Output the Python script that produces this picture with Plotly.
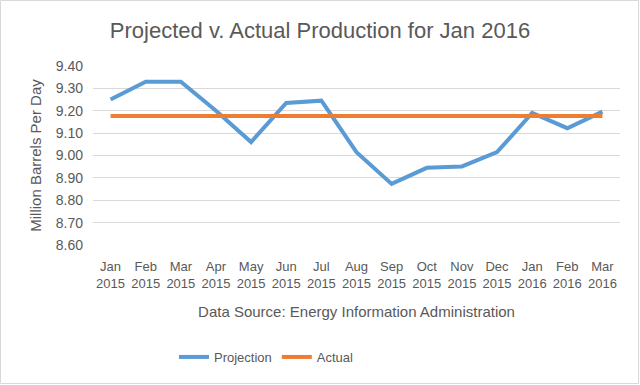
import plotly.graph_objects as go

months = ["Jan<br>2015", "Feb<br>2015", "Mar<br>2015", "Apr<br>2015", "May<br>2015",
          "Jun<br>2015", "Jul<br>2015", "Aug<br>2015", "Sep<br>2015", "Oct<br>2015",
          "Nov<br>2015", "Dec<br>2015", "Jan<br>2016", "Feb<br>2016", "Mar<br>2016"]
projection = [9.25, 9.33, 9.33, 9.20, 9.06, 9.235, 9.245, 9.015, 8.873, 8.945,
              8.951, 9.015, 9.19, 9.122, 9.196]
actual = [9.177] * len(months)
y_ticks = [8.60, 8.70, 8.80, 8.90, 9.00, 9.10, 9.20, 9.30, 9.40]

font_family = "Liberation Sans Narrow, Liberation Sans, Arial, sans-serif"
txt = "#595959"

fig = go.Figure()
fig.add_trace(go.Scatter(x=months, y=projection, name="Projection", mode="lines",
                         line=dict(color="#5B9BD5", width=4)))
fig.add_trace(go.Scatter(x=months, y=actual, name="Actual", mode="lines",
                         line=dict(color="#ED7D31", width=4)))

L, R, T, B = 93, 20, 66, 140
W, H = 640, 385
pw, ph = W - L - R, H - T - B

fig.update_layout(
    width=W, height=H,
    margin=dict(l=L, r=R, t=T, b=B),
    paper_bgcolor="white", plot_bgcolor="white",
    font=dict(family=font_family, color=txt, size=13),
    title=dict(text="Projected v. Actual Production for Jan 2016", x=0.5, xref="container",
               xanchor="center", y=1 - 30 / H, yref="container", yanchor="middle",
               font=dict(size=22, color=txt, family=font_family)),
    xaxis=dict(showgrid=False, showline=False, zeroline=False, ticks="",
               range=[-0.5, len(months) - 0.5],
               ticklabelstandoff=12,
               tickfont=dict(size=13, color=txt),
               title=dict(text="Data Source: Energy Information Administration",
                          font=dict(size=15, color=txt), standoff=16)),
    yaxis=dict(range=[8.6, 9.4], tickvals=y_ticks, tickformat=".2f",
               gridcolor="#D9D9D9", gridwidth=1, zeroline=False, showline=False,
               ticks="", ticklabelstandoff=9,
               tickfont=dict(size=14, color=txt),
               title=dict(text="Million Barrels Per Day", font=dict(size=15, color=txt),
                          standoff=10)),
    legend=dict(orientation="h", x=(174 - L) / pw, xanchor="left",
                y=-(357 - (H - B)) / ph, yanchor="middle",
                font=dict(size=13, color=txt), itemwidth=30),
    shapes=[dict(type="rect", xref="paper", yref="paper",
                 x0=(0.5 - L) / pw, x1=(W - 1.5 - L) / pw,
                 y0=-(H - 1.5 - (H - B)) / ph, y1=(H - B - 0.5) / ph,
                 line=dict(color="#D9D9D9", width=1), layer="below")],
)

fig.write_html("out.html", config={"displayModeBar": False},
               post_script="document.body.style.margin='0';")
